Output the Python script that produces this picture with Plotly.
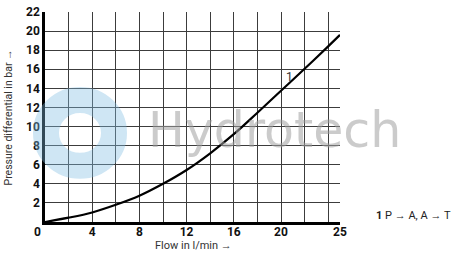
import plotly.graph_objects as go

# Data
flow = [0, 2, 4, 6, 8, 10, 12, 14, 16, 18, 20, 22, 24, 25]
pressure = [0, 0.45, 1.0, 1.8, 2.75, 4.0, 5.45, 7.2, 9.2, 11.45, 13.75, 16.05, 18.4, 19.6]

x_grid = list(range(0, 25, 2)) + [25]
x_labels = {4: "4", 8: "8", 12: "12", 16: "16", 20: "20", 25: "25"}
y_grid = list(range(0, 23, 2))
y_labels = {v: str(v) for v in range(2, 23, 2)}

curve_label = "1"
legend_text = "<b>1</b> P → A, A → T"
x_title = "Flow in l/min →"
y_title = "Pressure differential in bar →"

W, H = 451, 254
ml, mr, mt, mb = 45, 111, 5, 32
pw, ph = W - ml - mr, H - mt - mb

def px2paper(px, py):
    return (px - ml) / pw, (H - mb - py) / ph

fig = go.Figure()

fig.add_trace(go.Scatter(
    x=flow, y=pressure, mode="lines",
    line=dict(color="black", width=2.2, shape="spline", smoothing=1.0),
    hoverinfo="skip", showlegend=False,
))

gridc = "#3c3c3c"
tickfont = dict(family="Roboto, Arial, sans-serif", size=12, color="#111", weight="bold")

fig.update_xaxes(
    range=[0, 25], tickvals=x_grid,
    ticktext=[x_labels.get(v, "") for v in x_grid],
    showgrid=True, gridcolor=gridc, gridwidth=1.3,
    showline=True, linecolor="black", linewidth=2.5,
    zeroline=False, ticks="", tickfont=tickfont,
    ticklabelstandoff=-3,
    ticklabeloverflow="allow", fixedrange=True,
)
fig.update_yaxes(
    range=[0, 22], tickvals=y_grid,
    ticktext=[y_labels.get(v, "") for v in y_grid],
    showgrid=True, gridcolor=gridc, gridwidth=1.3,
    showline=True, linecolor="black", linewidth=2.5,
    zeroline=False, ticks="", tickfont=tickfont,
    ticklabeloverflow="allow", fixedrange=True,
)

# Watermark: logo ring and text
cx, cy = px2paper(80, 130)
rx, ry = 34 / pw, 34 / ph
fig.add_shape(type="circle", xref="paper", yref="paper",
              x0=cx - rx, x1=cx + rx, y0=cy - ry, y1=cy + ry,
              line=dict(color="rgba(130,190,225,0.38)", width=26),
              fillcolor="rgba(0,0,0,0)", layer="above")
wx, wy = px2paper(146, 127)
fig.add_annotation(xref="paper", yref="paper", x=wx, y=wy, xanchor="left", yanchor="middle",
                   text="Hydrotech", showarrow=False,
                   font=dict(family="DejaVu Sans, sans-serif", size=49, color="rgba(160,160,160,0.55)"))

# Curve label
fig.add_annotation(x=20.75, y=15.2, text=curve_label, showarrow=False,
                   font=dict(family="Roboto, sans-serif", size=12, color="#333"))

# Shared origin label
ox, oy = px2paper(37, 232)
fig.add_annotation(xref="paper", yref="paper", x=ox, y=oy, text="0", showarrow=False,
                   xanchor="center", yanchor="middle", font=tickfont)

# Axis titles
tx, ty = px2paper(193, 246)
fig.add_annotation(xref="paper", yref="paper", x=tx, y=ty, text=x_title, showarrow=False,
                   xanchor="center", yanchor="middle",
                   font=dict(family="Roboto, sans-serif", size=11, color="#333"))
yx, yy = px2paper(8, 114)
fig.add_annotation(xref="paper", yref="paper", x=yx, y=yy, text=y_title, showarrow=False,
                   textangle=-90, xanchor="center", yanchor="middle",
                   font=dict(family="Roboto, sans-serif", size=10.5, color="#333"))

# Legend text
lx, ly = px2paper(374, 215)
fig.add_annotation(xref="paper", yref="paper", x=lx, y=ly, text=legend_text, showarrow=False,
                   xanchor="left", yanchor="middle",
                   font=dict(family="Roboto, sans-serif", size=11, color="#222"))

fig.update_layout(
    width=W, height=H,
    margin=dict(l=ml, r=mr, t=mt, b=mb),
    paper_bgcolor="white", plot_bgcolor="white",
    showlegend=False,
)

fig.write_html("out.html", config={"displayModeBar": False})
